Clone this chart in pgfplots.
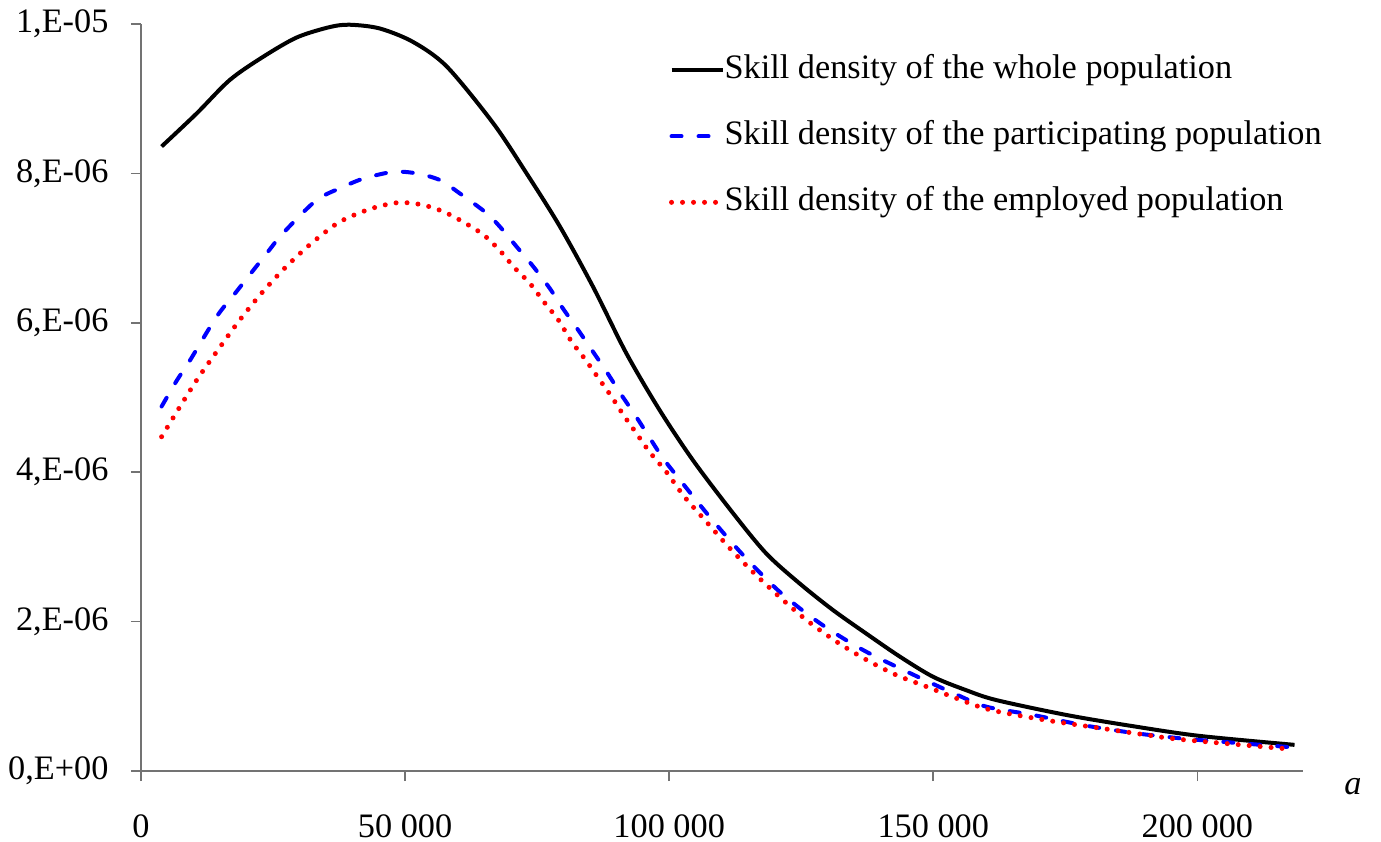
\documentclass[border=0pt]{standalone}
\usepackage{fontspec}
\setmainfont{Liberation Serif}
\usepackage{pgfplots}
\pgfplotsset{compat=1.18}
\begin{document}
\fontsize{12}{14}\selectfont
\begin{tikzpicture}
\useasboundingbox (-49.35pt,-24.5pt) rectangle (434pt,269.85pt);
\begin{axis}[
  scale only axis,
  width=406.7pt, height=261.45pt,
  xmin=0, xmax=220000, ymin=0, ymax=1e-5,
  axis lines=left,
  axis line style={-, draw=black!55, line width=0.6pt},
  tick align=outside,
  major tick length=3.5pt,
  tick style={draw=black!55, line width=0.6pt},
  xtick={0,50000,100000,150000,200000},
  xticklabels={0,{50 000},{100 000},{150 000},{200 000}},
  ytick={0,2e-6,4e-6,6e-6,8e-6,1e-5},
  yticklabels={{0,E+00},{2,E-06},{4,E-06},{6,E-06},{8,E-06},{1,E-05}},
  scaled ticks=false,
  tick label style={font=\fontsize{12}{14}\selectfont},
  xticklabel style={yshift=-7.5pt},
  yticklabel style={xshift=-3.7pt},
  xlabel={\textit{a}},
  xlabel style={at={(rel axis cs:1,0)}, anchor=center, xshift=17.5pt, yshift=-5.6pt, font=\fontsize{12}{14}\selectfont},
  clip=false,
  legend style={draw=none, fill=none, at={(rel axis cs:0.4544,0.959)}, anchor=north west,
    inner sep=0pt, outer sep=0pt, row sep=12.1pt, column sep=-0.2pt,
    nodes={inner sep=0pt, text height=8.5pt, text depth=2.5pt, anchor=west},
    font=\fontsize{12}{14}\selectfont},
  legend cell align=left,
  legend image code/.code={\draw[#1] (0pt,0pt) -- (17.9pt,0pt);},
]
\addplot[black, line width=1.4pt, smooth, tension=0.5] coordinates {
(3900,8.36e-6) (10500,8.80e-6) (16800,9.25e-6) (23100,9.56e-6) (29500,9.82e-6)
(35800,9.96e-6) (39600,9.99e-6) (45200,9.94e-6) (51500,9.76e-6) (57900,9.43e-6)
(66700,8.67e-6) (73000,8.00e-6) (79300,7.29e-6) (85600,6.48e-6)
(91900,5.59e-6) (98200,4.83e-6) (104500,4.16e-6) (112100,3.45e-6) (118400,2.91e-6)
(124700,2.51e-6) (131000,2.155e-6) (137300,1.84e-6) (143700,1.53e-6) (150000,1.26e-6)
(156300,1.08e-6) (161900,0.95e-6) (175200,0.75e-6) (187800,0.60e-6) (200400,0.47e-6)
(218400,0.35e-6)
};
\addlegendentry{Skill density of the whole population}
\addplot[blue, line width=1.4pt, line cap=round, dash pattern=on 3.5pt off 5.95pt, smooth, tension=0.5] coordinates {
(3900,4.88e-6) (6800,5.23e-6) (9300,5.50e-6) (14300,6.08e-6) (18100,6.42e-6)
(23800,6.93e-6) (26900,7.20e-6) (33200,7.64e-6) (38300,7.82e-6) (42100,7.93e-6)
(47700,8.02e-6) (52200,8.00e-6) (56600,7.91e-6) (60400,7.73e-6) (65400,7.47e-6)
(67900,7.29e-6) (71100,7.02e-6) (74300,6.75e-6) (77400,6.46e-6) (79900,6.19e-6)
(82800,5.90e-6) (85600,5.61e-6) (88100,5.35e-6) (91000,5.03e-6) (93500,4.77e-6)
(96400,4.45e-6) (98900,4.18e-6) (102000,3.90e-6) (107700,3.40e-6) (114000,2.89e-6)
(120900,2.40e-6) (128500,1.98e-6) (136700,1.62e-6) (145600,1.31e-6) (154500,1.02e-6)
(160100,0.86e-6) (168900,0.75e-6) (178300,0.615e-6) (187800,0.51e-6) (197200,0.435e-6)
(206700,0.38e-6) (217500,0.32e-6)
};
\addlegendentry{Skill density of the participating population}
\addplot[red, line width=1.75pt, line cap=round, dash pattern=on 0pt off 3.85pt, smooth, tension=0.5] coordinates {
(3900,4.475e-6) (7400,4.88e-6) (10800,5.26e-6) (14600,5.64e-6) (18400,6.01e-6)
(22500,6.37e-6) (26900,6.71e-6) (31700,7.03e-6) (36900,7.32e-6) (40600,7.45e-6)
(44600,7.55e-6) (48900,7.61e-6) (53200,7.58e-6) (57200,7.49e-6) (61000,7.35e-6)
(64800,7.18e-6) (67900,6.97e-6) (70800,6.73e-6) (73600,6.53e-6) (76500,6.26e-6)
(79000,6.04e-6) (81500,5.75e-6) (84000,5.52e-6) (86600,5.26e-6) (89100,5.01e-6)
(91300,4.77e-6) (93800,4.52e-6) (96300,4.27e-6) (99500,4.00e-6) (102900,3.67e-6)
(107000,3.34e-6) (111500,2.98e-6) (116200,2.64e-6) (120900,2.33e-6) (126000,2.02e-6)
(131700,1.73e-6) (137300,1.49e-6) (143000,1.285e-6) (148700,1.13e-6) (154500,0.97e-6)
(160700,0.82e-6) (171400,0.68e-6) (182000,0.57e-6) (190600,0.48e-6) (197200,0.42e-6)
(216500,0.30e-6)
};
\addlegendentry{Skill density of the employed population}
\end{axis}
\end{tikzpicture}
\end{document}
